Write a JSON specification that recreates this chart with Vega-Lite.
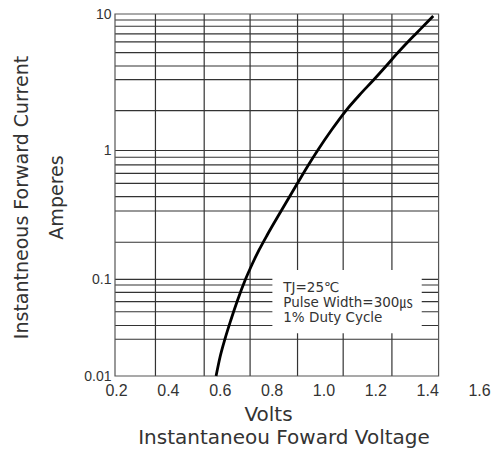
{
  "$schema": "https://vega.github.io/schema/vega-lite/v6.json",
  "width": 377,
  "height": 362,
  "autosize": {"type": "none"},
  "padding": {"left": 115, "top": 14, "right": 1, "bottom": 78},
  "background": "white",
  "config": {"view": {"stroke": null}},
  "title": {
    "text": "Instantaneou Foward Voltage",
    "orient": "bottom",
    "anchor": "middle",
    "frame": "group",
    "dx": -19.5,
    "offset": 4,
    "font": "DejaVu Sans",
    "fontSize": 20,
    "fontWeight": "normal",
    "color": "#333333"
  },
  "datasets": {
    "vgrid": [
      {"volts": 0.352}, {"volts": 0.540}, {"volts": 0.717},
      {"volts": 0.900}, {"volts": 1.076}, {"volts": 1.264}
    ],
    "hgrid": [
      {"amps": 9.04}, {"amps": 8.13}, {"amps": 7.14}, {"amps": 6.24}, {"amps": 5.21},
      {"amps": 4.16}, {"amps": 3.30}, {"amps": 1.96}, {"amps": 1.0},
      {"amps": 0.886}, {"amps": 0.772}, {"amps": 0.665}, {"amps": 0.556},
      {"amps": 0.438}, {"amps": 0.339}, {"amps": 0.194}, {"amps": 0.1},
      {"amps": 0.0873}, {"amps": 0.0734}, {"amps": 0.0587}, {"amps": 0.0462},
      {"amps": 0.0333}, {"amps": 0.0240}
    ],
    "curve": [
      {"volts": 0.5858, "amps": 0.0100},
      {"volts": 0.6012, "amps": 0.01572},
      {"volts": 0.6201, "amps": 0.02413},
      {"volts": 0.6429, "amps": 0.03794},
      {"volts": 0.6676, "amps": 0.05965},
      {"volts": 0.6985, "amps": 0.09876},
      {"volts": 0.7235, "amps": 0.1291},
      {"volts": 0.7517, "amps": 0.1689},
      {"volts": 0.7830, "amps": 0.2208},
      {"volts": 0.8366, "amps": 0.3391},
      {"volts": 0.9003, "amps": 0.5594},
      {"volts": 0.9419, "amps": 0.7718},
      {"volts": 0.9786, "amps": 1.0085},
      {"volts": 1.0310, "amps": 1.413},
      {"volts": 1.0854, "amps": 1.947},
      {"volts": 1.1390, "amps": 2.551},
      {"volts": 1.1931, "amps": 3.285},
      {"volts": 1.2417, "amps": 4.159},
      {"volts": 1.2857, "amps": 5.18},
      {"volts": 1.3235, "amps": 6.18},
      {"volts": 1.3594, "amps": 7.26},
      {"volts": 1.3914, "amps": 8.377},
      {"volts": 1.4234, "amps": 9.67}
    ]
  },
  "layer": [
    {
      "data": {"name": "vgrid"},
      "mark": {"type": "rule", "color": "#333333", "strokeWidth": 1.2},
      "encoding": {
        "x": {
          "field": "volts",
          "type": "quantitative",
          "scale": {"domain": [0.196, 1.65], "nice": false, "zero": false},
          "axis": {
            "values": [0.2, 0.4, 0.6, 0.8, 1.0, 1.2, 1.4, 1.6],
            "format": ".1f",
            "ticks": false,
            "domain": false,
            "grid": false,
            "labelPadding": 6,
            "labelFont": "Liberation Sans",
            "labelFontSize": 16,
            "labelColor": "#333333",
            "labelOverlap": false,
            "labelFlush": false,
            "labelBound": false,
            "title": "Volts",
            "titleX": 153,
            "titleY": 44,
            "titleAlign": "center",
            "titleBaseline": "alphabetic",
            "titleFont": "DejaVu Sans",
            "titleFontSize": 20,
            "titleFontWeight": "normal",
            "titleColor": "#333333"
          }
        },
        "y": {
          "datum": 0.01,
          "type": "quantitative",
          "scale": {
            "type": "log",
            "domain": [0.01, 0.1, 1, 10],
            "range": [362, 265.3, 136.5, 0],
            "nice": false
          },
          "axis": {
            "values": [0.01, 0.1, 1, 10],
            "format": "~g",
            "ticks": false,
            "domain": false,
            "grid": false,
            "labelPadding": 4,
            "labelFont": "Liberation Sans",
            "labelFontSize": 14,
            "labelColor": "#333333",
            "labelOverlap": false,
            "labelFlush": false,
            "labelBound": false,
            "title": ["Instantneous Forward Current", "Amperes"],
            "titleAngle": -90,
            "titleX": -88,
            "titleY": 183,
            "titleAlign": "center",
            "titleBaseline": "alphabetic",
            "titleLineHeight": 35,
            "titleFont": "DejaVu Sans",
            "titleFontSize": 19,
            "titleFontWeight": "normal",
            "titleColor": "#333333"
          }
        },
        "y2": {"datum": 10}
      }
    },
    {
      "data": {"name": "hgrid"},
      "mark": {"type": "rule", "color": "#333333", "strokeWidth": 1.2},
      "encoding": {
        "y": {"field": "amps", "type": "quantitative"},
        "x": {"datum": 0.196, "type": "quantitative"},
        "x2": {"datum": 1.444}
      }
    },
    {
      "data": {"values": [{}]},
      "mark": {"type": "rect", "filled": false, "stroke": "#555555", "strokeWidth": 1.2},
      "encoding": {
        "x": {"datum": 0.196, "type": "quantitative"},
        "x2": {"datum": 1.444},
        "y": {"datum": 0.01, "type": "quantitative"},
        "y2": {"datum": 10}
      }
    },
    {
      "data": {"values": [{}]},
      "mark": {"type": "rect", "fill": "white", "stroke": null},
      "encoding": {
        "x": {"datum": 0.803, "type": "quantitative"},
        "x2": {"datum": 1.379},
        "y": {"datum": 0.02764, "type": "quantitative"},
        "y2": {"datum": 0.1181}
      }
    },
    {
      "data": {"name": "curve"},
      "mark": {"type": "line", "color": "black", "strokeWidth": 2.8, "interpolate": "monotone"},
      "encoding": {
        "x": {"field": "volts", "type": "quantitative"},
        "y": {"field": "amps", "type": "quantitative"}
      }
    },
    {
      "data": {"values": [{}]},
      "mark": {
        "type": "text",
        "text": ["TJ=25℃", "Pulse Width=300㎲", "1% Duty Cycle"],
        "align": "left",
        "baseline": "alphabetic",
        "lineHeight": 15,
        "font": "DejaVu Sans, Noto Sans CJK KR",
        "fontSize": 13.5,
        "color": "#333333"
      },
      "encoding": {
        "x": {"datum": 0.845, "type": "quantitative"},
        "y": {"datum": 0.0745, "type": "quantitative"}
      }
    }
  ]
}
